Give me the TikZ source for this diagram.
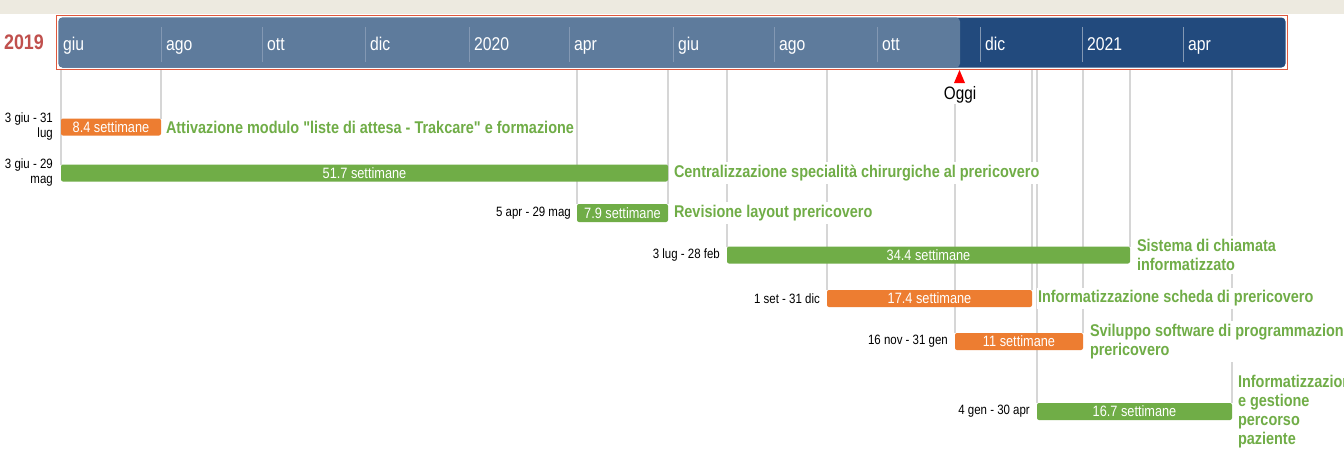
\documentclass[tikz,border=0pt]{standalone}
\usepackage{fontspec}
\setmainfont{Liberation Sans}
\newfontfamily\narrowfont[FakeStretch=0.85,Ligatures=TeXOff]{Liberation Sans}
\definecolor{orng}{HTML}{ED7D31}
\definecolor{grn}{HTML}{70AD47}
\definecolor{hdrlight}{HTML}{5E7B9C}
\definecolor{hdrdark}{HTML}{224A7D}
\definecolor{hdrred}{HTML}{E0583C}
\definecolor{yearred}{HTML}{C0504D}
\definecolor{beige}{HTML}{EDEAE0}
\definecolor{gridgray}{HTML}{D6D6D6}
\definecolor{tickblue}{HTML}{8398B3}
\pgfdeclarelayer{back}
\pgfdeclarelayer{bg}
\pgfsetlayers{back,bg,main}
\begin{document}
\begin{tikzpicture}[x=1pt,y=-1pt,
  taskbar/.style={rounded corners=2pt, minimum height=17pt, inner sep=0pt, outer sep=0pt, anchor=west, text=white, font=\narrowfont\fontsize{15}{15}\selectfont},
  tasktitle/.style={anchor=west, fill=white, text=grn, inner xsep=1pt, inner ysep=3pt, outer sep=0pt, align=left, font=\narrowfont\bfseries\fontsize{17}{19}\selectfont},
  datelbl/.style={anchor=east, inner sep=0pt, align=right, font=\narrowfont\fontsize{13.5}{15}\selectfont},
  gridline/.style={draw=gridgray, line width=1.5pt},
  hdrtick/.style={draw=tickblue, line width=1pt},
  monthlbl/.style={anchor=base west, inner sep=0pt, text=white, font=\narrowfont\fontsize{18.5}{18.5}\selectfont},
]
\useasboundingbox (0,0) rectangle (1344,453);
\begin{pgfonlayer}{back}
  \fill[white] (0,0) rectangle (1344,453);
  \fill[beige] (0,0) rectangle (1344,14);
\end{pgfonlayer}

% header
\node[draw=hdrred, line width=1.5pt, minimum width=1231pt, minimum height=54pt, inner sep=0pt, outer sep=0pt, anchor=north west] (hdr) at (56.5,15.5) {};
\fill[hdrdark, rounded corners=4pt] (58.5,17.5) rectangle (1285.5,67.5);
\fill[hdrlight, rounded corners=4pt] (58.5,17.5) rectangle (960,67.5);
\foreach \x in {161,262,365,469,569,673,774,877,980,1082,1183}
  \draw[hdrtick] (\x,27) -- (\x,62);
\node[monthlbl] (m1) at (63,50) {giu};
\node[monthlbl] (m2) at (166,50) {ago};
\node[monthlbl] (m3) at (267,50) {ott};
\node[monthlbl] (m4) at (370,50) {dic};
\node[monthlbl] (m5) at (474,50) {2020};
\node[monthlbl] (m6) at (574,50) {apr};
\node[monthlbl] (m7) at (678,50) {giu};
\node[monthlbl] (m8) at (779,50) {ago};
\node[monthlbl] (m9) at (882,50) {ott};
\node[monthlbl] (m10) at (985,50) {dic};
\node[monthlbl] (m11) at (1087,50) {2021};
\node[monthlbl] (m12) at (1188,50) {apr};
\node[text=yearred, inner sep=0pt, font=\narrowfont\bfseries\fontsize{21}{21}\selectfont] (yr) at (24,42) {2019};

% today marker
\fill[red] (959.5,70) -- (965,83) -- (954,83) -- cycle;
\node[inner sep=0pt, font=\narrowfont\fontsize{18}{18}\selectfont] (oggi) at (960,95) {Oggi};

% bars
\node[taskbar, fill=orng, minimum width=100pt] (b1) at (61,127) {8.4 settimane};
\node[taskbar, fill=grn, minimum width=607pt] (b2) at (61,173) {51.7 settimane};
\node[taskbar, fill=grn, minimum width=91pt, minimum height=18pt] (b3) at (577,213) {7.9 settimane};
\node[taskbar, fill=grn, minimum width=403pt] (b4) at (727,255) {34.4 settimane};
\node[taskbar, fill=orng, minimum width=205pt] (b5) at (827,298.5) {17.4 settimane};
\node[taskbar, fill=orng, minimum width=128pt] (b6) at (955,341.5) {11 settimane};
\node[taskbar, fill=grn, minimum width=195pt] (b7) at (1037,411.5) {16.7 settimane};

% titles
\node[tasktitle] (t1) at ([xshift=4pt]b1.east) {Attivazione modulo "liste di attesa - Trakcare" e formazione};
\node[tasktitle] (t2) at ([xshift=5pt]b2.east) {Centralizzazione specialità chirurgiche al prericovero};
\node[tasktitle] (t3) at ([xshift=5pt]b3.east) {Revisione layout prericovero};
\node[tasktitle] (t4) at ([xshift=6pt]b4.east) {Sistema di chiamata\\informatizzato};
\node[tasktitle] (t5) at ([xshift=5pt]b5.east) {Informatizzazione scheda di prericovero};
\node[tasktitle] (t6) at ([xshift=6pt]b6.east) {Sviluppo software di programmazione\\prericovero};
\node[tasktitle] (t7) at ([xshift=5pt]b7.east) {Informatizzazione\\e gestione\\percorso\\paziente};

% dates
\node[datelbl] (d1) at ([xshift=-8pt]b1.west) {3 giu - 31\\lug};
\node[datelbl] (d2) at ([xshift=-8pt]b2.west) {3 giu - 29\\mag};
\node[datelbl] (d3) at ([xshift=-6pt]b3.west) {5 apr - 29 mag};
\node[datelbl] (d4) at ([xshift=-7pt]b4.west) {3 lug - 28 feb};
\node[datelbl] (d5) at ([xshift=-7pt]b5.west) {1 set - 31 dic};
\node[datelbl] (d6) at ([xshift=-7pt]b6.west) {16 nov - 31 gen};
\node[datelbl] (d7) at ([xshift=-7pt]b7.west) {4 gen - 30 apr};

% grid lines
\begin{pgfonlayer}{bg}
  \draw[gridline] (b2.north west |- hdr.south) -- (b2.north west);
  \draw[gridline] (b1.north east |- hdr.south) -- (b1.north east);
  \draw[gridline] (b3.north west |- hdr.south) -- (b3.north west);
  \draw[gridline] (b3.north east |- hdr.south) -- (b3.north east);
  \draw[gridline] (b4.north west |- hdr.south) -- (b4.north west);
  \draw[gridline] (b4.north east |- hdr.south) -- (b4.north east);
  \draw[gridline] (b5.north west |- hdr.south) -- (b5.north west);
  \draw[gridline] (b5.north east |- hdr.south) -- (b5.north east);
  \draw[gridline] (b6.north west |- oggi.south) -- (b6.north west);
  \draw[gridline] (b6.north east |- hdr.south) -- (b6.north east);
  \draw[gridline] (b7.north west |- hdr.south) -- (b7.north west);
  \draw[gridline] (b7.north east |- hdr.south) -- (b7.north east);
\end{pgfonlayer}
\end{tikzpicture}
\end{document}
